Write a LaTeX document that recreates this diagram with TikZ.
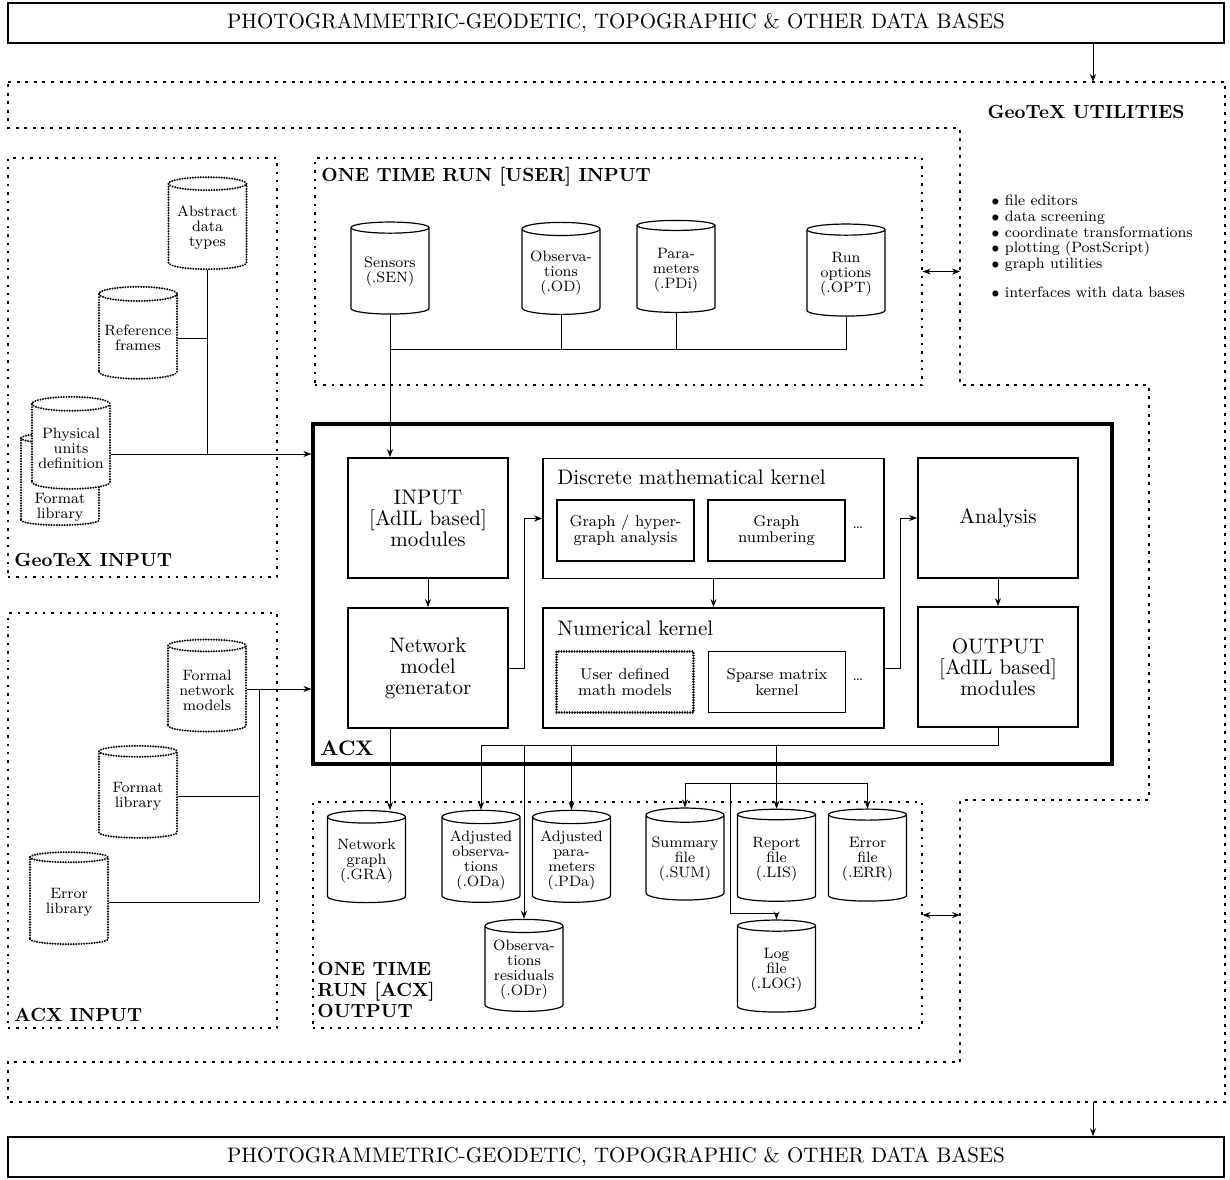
\documentclass[tikz,border=0pt]{standalone}
\usepackage{tikz}
\usetikzlibrary{positioning, arrows.meta, shapes.geometric}
\tikzset{
    dbbox/.style={draw, line width=0.8pt, minimum width=608pt, minimum height=20pt, font=\fontsize{10.5}{12}\selectfont},
    region/.style={draw, dash pattern=on 1.2pt off 3pt, line width=0.6pt, inner sep=0pt},
    heading/.style={font=\fontsize{9.5}{10.5}\selectfont\bfseries, align=left, inner sep=0pt},
    module/.style={draw, line width=0.9pt, minimum width=80pt, minimum height=60pt, align=center, font=\fontsize{10.5}{10.5}\selectfont},
    kernel/.style={draw, line width=0.9pt, minimum width=170.5pt, minimum height=60pt},
    subbox/.style={draw, line width=0.6pt, minimum width=68.5pt, minimum height=30.5pt, align=center, font=\fontsize{7.8}{7.8}\selectfont},
    datafile/.style={cylinder, shape border rotate=90, aspect=0.2, draw, line width=0.6pt, minimum height=46pt, minimum width=39pt, align=center, inner sep=1pt, font=\fontsize{7.5}{7.5}\selectfont},
    filetext/.style={align=center, inner sep=0pt, font=\fontsize{7.5}{7.5}\selectfont},
    wavy/.style={line width=1.1pt, dash pattern=on 0.01pt off 1.3pt, line cap=round},
    link/.style={line width=0.5pt},
    arr/.style={link, -{Stealth[length=4pt,width=3pt]}},
    biarr/.style={link, {Stealth[length=4pt,width=3pt]}-{Stealth[length=4pt,width=3pt]}}
}
\begin{document}
\begin{tikzpicture}[x=0.5pt, y=-0.5pt]
\useasboundingbox (0,0) rectangle (1230,1179);

% data bases top and bottom
\node[dbbox] (dbtop) at (616,23) {PHOTOGRAMMETRIC-GEODETIC, TOPOGRAPHIC \& OTHER DATA BASES};
\node[dbbox] (dbbot) at (616,1157) {PHOTOGRAMMETRIC-GEODETIC, TOPOGRAPHIC \& OTHER DATA BASES};

% utilities area
\draw[dash pattern=on 1.5pt off 2.8pt, line width=0.6pt]
    (8,82) -- (1225,82) -- (1225,1102) -- (8,1102) -- (8,1062) -- (960,1062) -- (960,800)
    -- (1149,800) -- (1149,385) -- (960,385) -- (960,128) -- (8,128) -- cycle;
\coordinate (utiltop) at (1093,82);
\coordinate (utilbot) at (1093,1102);
\coordinate (utilL) at (960,0);
\draw[arr] (dbtop.south -| utiltop) -- (utiltop);
\draw[arr] (utilbot) -- (utilbot |- dbbot.north);
\node[heading] (utilhd) at (1086,112) {GeoTeX UTILITIES};
\node[anchor=north west, align=left, inner sep=0pt, font=\fontsize{7.5}{7.8}\selectfont] (utillist) at (991,195)
    {$\bullet$ file editors\\ $\bullet$ data screening\\ $\bullet$ coordinate transformations\\
     $\bullet$ plotting (PostScript)\\ $\bullet$ graph utilities\\[7pt] $\bullet$ interfaces with data bases};

% regions
\node[region, minimum width=134.5pt, minimum height=209.5pt] (geoin) at (142.5,367.5) {};
\node[region, minimum width=134.5pt, minimum height=207.5pt] (acxin) at (142.5,820.5) {};
\node[region, minimum width=303.5pt, minimum height=113.5pt] (usrin) at (618.5,271.5) {};
\node[region, minimum width=304.5pt, minimum height=113pt] (acxout) at (617.5,915) {};
\node[heading, anchor=base west] at (14,566) {GeoTeX INPUT};
\node[heading, anchor=base west] at (14,1021) {ACX INPUT};
\node[heading, anchor=base west] at (321,181) {ONE TIME RUN [USER] INPUT};
\node[heading, anchor=south west] at (317,1018) {ONE TIME\\{RUN [ACX]}\\OUTPUT};
\draw[biarr] (usrin.east) -- (usrin.east -| utilL);
\draw[biarr] (acxout.east) -- (acxout.east -| utilL);

% ACX
\node[draw, line width=1.6pt, minimum width=399.5pt, minimum height=170pt] (acx) at (712.5,594) {};
\node[heading, anchor=base west, font=\fontsize{10.5}{11}\selectfont\bfseries] at (320,755) {ACX};
\node[module] (inmod) at (428,518) {INPUT\\{[AdIL based]}\\modules};
\node[module] (netgen) at (428,668) {Network\\model\\generator};
\node[module] (analysis) at (998,518) {Analysis};
\node[module] (outmod) at (998,667) {OUTPUT\\{[AdIL based]}\\modules};
\node[kernel] (discrete) at (713.5,518.5) {};
\node[kernel] (numeric) at (713.5,668) {};
\node[anchor=west, inner sep=0pt, font=\fontsize{10.5}{11}\selectfont] at (557,477) {Discrete mathematical kernel};
\node[anchor=west, inner sep=0pt, font=\fontsize{10.5}{11}\selectfont] at (557,628) {Numerical kernel};
\node[subbox] (graphan) at (625.5,530.5) {Graph / hyper-\\graph analysis};
\node[subbox] (graphnum) at (776.5,530.5) {Graph\\numbering};
\node[subbox, wavy] (usermath) at (625,682) {User defined\\math models};
\node[subbox] (sparse) at (777,682) {Sparse matrix\\kernel};
\node[font=\fontsize{7.5}{7.5}\selectfont] (dotsA) at (858,528) {\dots};
\node[font=\fontsize{7.5}{7.5}\selectfont] (dotsB) at (858,680) {\dots};
\draw[arr] (inmod.south) -- (netgen.north);
\draw[arr] (netgen.east) -- ++(16,0) |- (discrete.west);
\draw[arr] (discrete.south) -- (numeric.north);
\draw[arr] (numeric.east) -- ++(16,0) |- (analysis.west);
\draw[arr] (analysis.south) -- (outmod.north);

% GeoTeX input
\node[datafile, wavy] (abstr) at (207.5,228) {Abstract\\data\\types};
\node[datafile, wavy] (reff) at (138,338) {Reference\\frames};
\node[datafile, wavy] (fmtgeo) at (60,483) {\phantom{library}};
\node[filetext] (fmtgeotxt) at ([yshift=-12pt]fmtgeo.center) {Format\\library};
\node[datafile, wavy, fill=white] (phys) at (71,448) {Physical\\units\\definition};
\coordinate (geobus) at (208,454);
\draw[link] (abstr.south) -- (abstr.south |- geobus);
\draw[link] (reff.east) -- (reff.east -| geobus);
\draw[arr] (phys.east |- geobus) -- (geobus -| acx.west);

% ACX input
\node[datafile, wavy] (fnm) at (207,690) {Formal\\network\\models};
\node[datafile, wavy] (fmtacx) at (138,796) {Format\\library};
\node[datafile, wavy] (errlib) at (69,902) {Error\\library};
\coordinate (acxbus) at (259,689);
\draw[arr] (fnm.east |- acxbus) -- (acxbus -| acx.west);
\draw[link] (acxbus) -- (acxbus |- errlib.east);
\draw[link] (fmtacx.east) -- (fmtacx.east -| acxbus);
\draw[link] (errlib.east) -- (errlib.east -| acxbus);

% user input
\node[datafile] (sen) at (390,272) {Sensors\\(.SEN)};
\node[datafile] (obs) at (561,273) {Observa-\\tions\\(.OD)};
\node[datafile] (par) at (676,270) {Para-\\meters\\(.PDi)};
\node[datafile] (runopt) at (846,274) {Run\\options\\(.OPT)};
\coordinate (usrbus) at (390,349);
\draw[link] (runopt.south) |- (usrbus);
\draw[link] (obs.south) -- (obs.south |- usrbus);
\draw[link] (par.south) -- (par.south |- usrbus);
\draw[arr] (sen.south) -- (sen.south |- inmod.north);

% ACX output
\node[datafile] (gra) at (366.5,861) {Network\\graph\\(.GRA)};
\node[datafile] (oda) at (481,861) {Adjusted\\observa-\\tions\\(.ODa)};
\node[datafile] (pda) at (571.5,861) {Adjusted\\para-\\meters\\(.PDa)};
\node[datafile] (odr) at (524,970) {Observa-\\tions\\residuals\\(.ODr)};
\node[datafile] (sumf) at (685,859) {Summary\\file\\(.SUM)};
\node[datafile] (lis) at (776.5,859) {Report\\file\\(.LIS)};
\node[datafile] (errf) at (867.5,859) {Error\\file\\(.ERR)};
\node[datafile] (logf) at (776.5,970) {Log\\file\\(.LOG)};
\draw[arr] (netgen.south -| sen.south) -- (sen.south |- gra.north);
\coordinate (obus) at (998,745);
\draw[link] (outmod.south) -- (obus) -- (obus -| oda.north);
\draw[arr] (obus -| oda.north) -- (oda.north);
\draw[arr] (obus -| odr.north) -- (odr.north);
\draw[arr] (obus -| pda.north) -- (pda.north);
\draw[arr] (obus -| lis.north) -- (lis.north);
\coordinate (rbus) at (777,783);
\draw[link] (sumf.north |- rbus) -- (errf.north |- rbus);
\draw[arr] (sumf.north |- rbus) -- (sumf.north);
\draw[arr] (errf.north |- rbus) -- (errf.north);
\coordinate (logturn) at (730,913);
\draw[arr] (logturn |- rbus) -- (logturn) -| (logf.north);
\end{tikzpicture}
\end{document}
